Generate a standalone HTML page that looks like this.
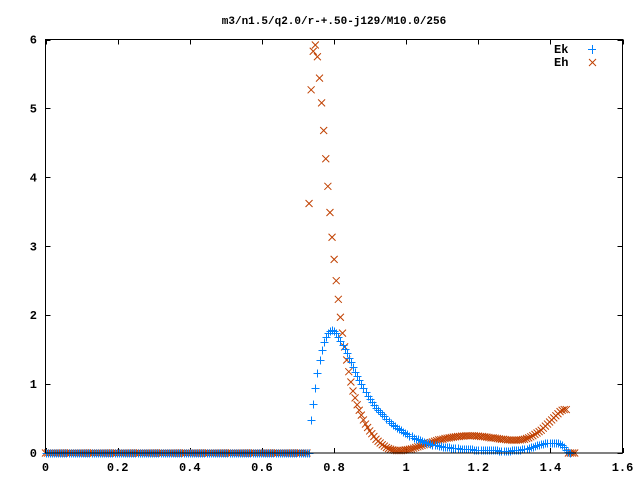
<!DOCTYPE html>
<html>
<head>
<meta charset="utf-8">
<style>
html,body{margin:0;padding:0;background:#fff;}
svg{display:block;}
text{font-family:"Liberation Mono","DejaVu Sans Mono",monospace;font-weight:bold;font-size:12px;fill:#000;}
</style>
</head>
<body>
<svg id="chart" width="640" height="480" viewBox="0 0 640 480" xmlns="http://www.w3.org/2000/svg">
  <rect x="0" y="0" width="640" height="480" fill="#fff"/>
  <text x="334" y="24" text-anchor="middle" style="font-size:11px">m3/n1.5/q2.0/r-+.50-j129/M10.0/256</text>
  <g id="axes"></g>
  <g id="marks"></g>
  <rect x="45.5" y="39.5" width="577" height="413.5" fill="none" stroke="#000" stroke-width="1" shape-rendering="crispEdges"/>
  <g>
    <text x="554" y="53">Ek</text>
    <g stroke="#0080ff" stroke-width="1" shape-rendering="crispEdges">
      <line x1="588" y1="49.5" x2="596" y2="49.5"/><line x1="592.5" y1="45" x2="592.5" y2="54"/>
    </g>
    <text x="554" y="66">Eh</text>
    <g stroke="#c04000" stroke-width="1">
      <line x1="589" y1="59" x2="596" y2="66"/><line x1="596" y1="59" x2="589" y2="66"/>
    </g>
  </g>
</svg>
<script>
const xTicks = [0, 0.2, 0.4, 0.6, 0.8, 1, 1.2, 1.4, 1.6];
const xTickLabels = ["0", "0.2", "0.4", "0.6", "0.8", "1", "1.2", "1.4", "1.6"];
const yTicks = [0, 1, 2, 3, 4, 5, 6];
const yTickLabels = ["0", "1", "2", "3", "4", "5", "6"];
const sampleStep = 0.0058;
const ekValues = [
0,0,0,0,0,0,0,0,0,0,0,0,0,0,0,0,0,0,0,0,
0,0,0,0,0,0,0,0,0,0,0,0,0,0,0,0,0,0,0,0,
0,0,0,0,0,0,0,0,0,0,0,0,0,0,0,0,0,0,0,0,
0,0,0,0,0,0,0,0,0,0,0,0,0,0,0,0,0,0,0,0,
0,0,0,0,0,0,0,0,0,0,0,0,0,0,0,0,0,0,0,0,
0,0,0,0,0,0,0,0,0,0,0,0,0,0,0,0,0,0,0,0,
0,0,0,0,0,0,
0,0.48,0.71,0.94,1.16,1.35,1.50,1.61,1.69,1.74,1.77,1.78,1.77,1.74,1.69,1.63,1.57,1.51,1.45,1.38,
1.32,1.25,1.18,1.12,1.06,1.00,0.94,0.88,0.83,0.78,0.74,0.70,0.66,0.62,0.59,0.56,0.53,0.50,0.47,0.44,
0.41,0.39,0.37,0.35,0.33,0.31,0.29,0.27,0.25,0.24,0.22,0.21,0.20,0.185,0.17,0.16,0.15,0.14,0.13,0.12,
0.115,0.11,0.10,0.095,0.09,0.087,0.083,0.08,0.077,0.074,0.07,0.067,0.064,0.062,0.06,0.058,0.056,0.054,0.052,0.05,
0.048,0.046,0.045,0.044,0.043,0.042,0.041,0.04,0.039,0.038,0.037,0.036,0.035,0.035,0.035,0.035,0.036,0.037,0.038,0.04,
0.043,0.047,0.052,0.058,0.065,0.073,0.082,0.092,0.10,0.11,0.12,0.13,0.135,0.14,0.145,0.148,0.15,0.15,0.148,0.14,
0.13,0.11,0.08,0.05,0.02,0
];
const ehValues = [
0,0,0,0,0,0,0,0,0,0,0,0,0,0,0,0,0,0,0,0,
0,0,0,0,0,0,0,0,0,0,0,0,0,0,0,0,0,0,0,0,
0,0,0,0,0,0,0,0,0,0,0,0,0,0,0,0,0,0,0,0,
0,0,0,0,0,0,0,0,0,0,0,0,0,0,0,0,0,0,0,0,
0,0,0,0,0,0,0,0,0,0,0,0,0,0,0,0,0,0,0,0,
0,0,0,0,0,0,0,0,0,0,0,0,0,0,0,0,0,0,0,0,
0,0,0,0,0,0,
3.62,5.27,5.83,5.92,5.75,5.44,5.08,4.68,4.27,3.87,3.49,3.13,2.81,2.50,2.23,1.97,1.74,1.54,1.35,1.18,
1.03,0.90,0.80,0.70,0.62,0.55,0.48,0.42,0.37,0.32,0.28,0.24,0.20,0.17,0.145,0.12,0.10,0.08,0.065,0.055,
0.045,0.04,0.035,0.035,0.035,0.04,0.045,0.05,0.055,0.06,0.07,0.08,0.09,0.10,0.11,0.12,0.13,0.14,0.15,0.16,
0.17,0.18,0.19,0.195,0.20,0.21,0.215,0.22,0.225,0.23,0.235,0.24,0.24,0.245,0.245,0.25,0.25,0.25,0.25,0.25,
0.245,0.245,0.24,0.24,0.235,0.23,0.225,0.22,0.22,0.215,0.21,0.205,0.20,0.20,0.195,0.19,0.19,0.185,0.185,0.185,
0.19,0.19,0.195,0.20,0.21,0.22,0.235,0.25,0.27,0.29,0.31,0.33,0.36,0.39,0.42,0.45,0.48,0.51,0.54,0.57,
0.60,0.62,0.63,0.63,0,0,0,0
];

const NS = "http://www.w3.org/2000/svg";
const plot = {left: 45.5, right: 622.5, top: 39.5, bottom: 453};
const xMin = 0, xMax = 1.6, yMin = 0, yMax = 6;
function xScale(v){ return plot.left + (v - xMin) / (xMax - xMin) * (plot.right - plot.left); }
function yScale(v){ return plot.bottom - (v - yMin) / (yMax - yMin) * (plot.bottom - plot.top); }
function mk(tag, attrs){ const e = document.createElementNS(NS, tag); for (const k in attrs) e.setAttribute(k, attrs[k]); return e; }

const axes = document.getElementById('axes');
xTicks.forEach((t, i) => {
  const x = Math.round(xScale(t)) + 0.5;
  const l1 = mk('line', {x1: x, y1: plot.bottom, x2: x, y2: plot.bottom - 5, stroke: '#000', 'shape-rendering': 'crispEdges'});
  
  
  axes.appendChild(l1);
  const l2 = mk('line', {x1: x, y1: plot.top, x2: x, y2: plot.top + 5, stroke: '#000', 'shape-rendering': 'crispEdges'});
  
  
  axes.appendChild(l2);
  const tx = mk('text', {x: xScale(t), y: 471, 'text-anchor': 'middle'});
  tx.textContent = xTickLabels[i];
  
  
  axes.appendChild(tx);
});
yTicks.forEach((t, i) => {
  const y = Math.round(yScale(t)) + 0.5;
  const l1 = mk('line', {x1: plot.left, y1: y, x2: plot.left + 5, y2: y, stroke: '#000', 'shape-rendering': 'crispEdges'});
  
  
  axes.appendChild(l1);
  const l2 = mk('line', {x1: plot.right, y1: y, x2: plot.right - 5, y2: y, stroke: '#000', 'shape-rendering': 'crispEdges'});
  
  
  axes.appendChild(l2);
  const tx = mk('text', {x: 37, y: yScale(t) + 4, 'text-anchor': 'end'});
  tx.textContent = yTickLabels[i];
  
  
  axes.appendChild(tx);
});

const marks = document.getElementById('marks');
const ekGroup = mk('g', {stroke: '#0080ff', 'stroke-width': 1, 'shape-rendering': 'crispEdges'});


const ehGroup = mk('g', {stroke: '#c04000', 'stroke-width': 1});


marks.appendChild(ehGroup);
marks.appendChild(ekGroup);

ehValues.forEach((v, i) => {
  const cx = xScale(i * sampleStep), cy = yScale(v);
  const g = mk('g', {});
  
  
  g.appendChild(mk('line', {x1: cx - 3.5, y1: cy - 3.5, x2: cx + 3.5, y2: cy + 3.5}));
  g.appendChild(mk('line', {x1: cx + 3.5, y1: cy - 3.5, x2: cx - 3.5, y2: cy + 3.5}));
  ehGroup.appendChild(g);
});
ekValues.forEach((v, i) => {
  const cx = Math.round(xScale(i * sampleStep)) + 0.5, cy = Math.round(yScale(v)) + 0.5;
  const g = mk('g', {});
  
  
  g.appendChild(mk('line', {x1: cx - 4, y1: cy, x2: cx + 4, y2: cy}));
  g.appendChild(mk('line', {x1: cx, y1: cy - 4, x2: cx, y2: cy + 4}));
  ekGroup.appendChild(g);
});
</script>
</body>
</html>
